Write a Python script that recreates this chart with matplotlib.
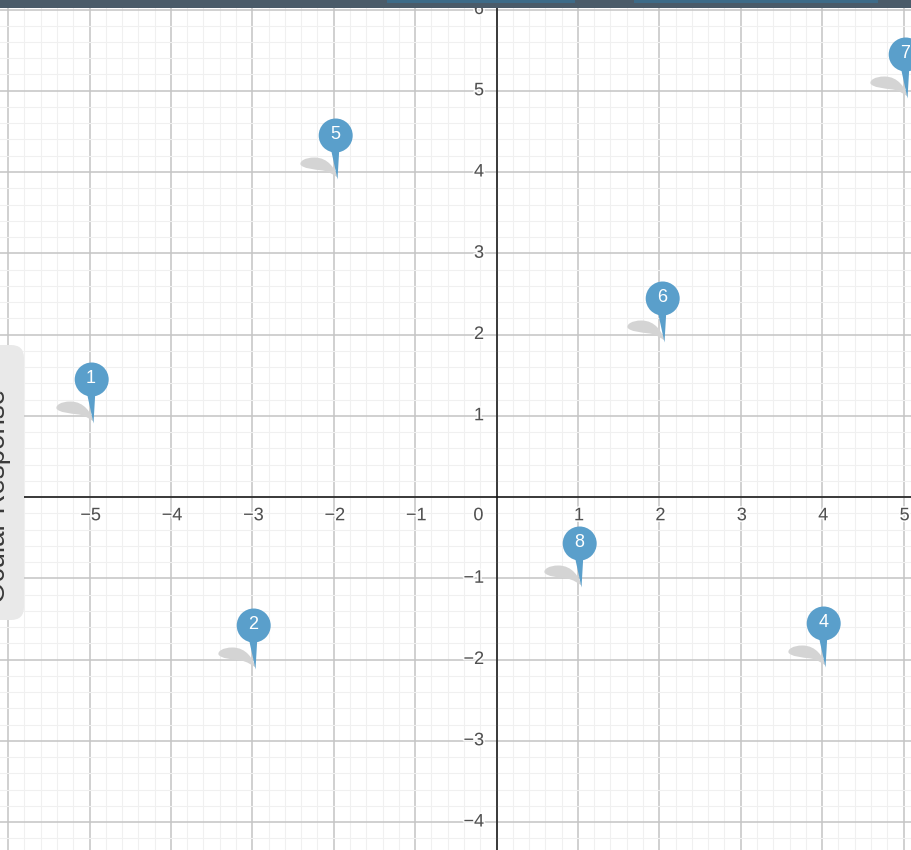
import matplotlib
matplotlib.use("Agg")
import matplotlib.pyplot as plt
import matplotlib.patheffects as pe
import numpy as np
from matplotlib.markers import MarkerStyle
from matplotlib.patches import FancyBboxPatch, Rectangle
from matplotlib.path import Path
from matplotlib.ticker import MultipleLocator

pin_labels = ["1", "2", "4", "5", "6", "7", "8"]
pin_x = [-5, -3, 4, -2, 2.02, 5, 1]
pin_y = [1, -2.03, -2, 4, 2, 5, -1.02]
x_ticks = [-5, -4, -3, -2, -1, 1, 2, 3, 4, 5]
y_ticks = [-4, -3, -2, -1, 1, 2, 3, 4, 5, 6]
side_title = "Ocular Response"

W, H = 912, 850
X0, Y0, UX, UY = 496.5, 497.0, 81.4, 81.25
plt.rcParams["font.family"] = ["Liberation Sans", "DejaVu Sans"]

fig = plt.figure(figsize=(W / 100, H / 100), dpi=100, facecolor="white")
ax = fig.add_axes([0, 0, 1, 1])
ax.set_xlim(-X0 / UX, (W - X0) / UX)
ax.set_ylim((Y0 - H) / UY, Y0 / UY)
ax.xaxis.set_major_locator(MultipleLocator(1))
ax.yaxis.set_major_locator(MultipleLocator(1))
ax.xaxis.set_minor_locator(MultipleLocator(0.2))
ax.yaxis.set_minor_locator(MultipleLocator(0.2))
ax.set_axisbelow(True)
ax.grid(which="minor", color="#f0f0f0", lw=0.8)
ax.grid(which="major", color="#c4c4c4", lw=1.1)
ax.tick_params(which="both", length=0, labelbottom=False, labelleft=False)
for s in ["top", "right"]:
    ax.spines[s].set_visible(False)
for s in ["left", "bottom"]:
    ax.spines[s].set_position(("data", 0))
    ax.spines[s].set_color("#111111")
    ax.spines[s].set_linewidth(1.1)

halo = [pe.withStroke(linewidth=2.5, foreground="white", alpha=0.8)]
tick_style = dict(fontsize=13, color="#505050", path_effects=halo, zorder=3)
for v in x_ticks:
    ax.annotate(str(v).replace("-", "\u2212"), (v, 0), xytext=(0.8, -13.5),
                textcoords="offset points", ha="center", va="center", **tick_style)
for v in y_ticks:
    ax.annotate(str(v).replace("-", "\u2212"), (0, v), xytext=(-9, 0),
                textcoords="offset points", ha="right", va="center", **tick_style)
ax.annotate("0", (0, 0), xytext=(-13, -13.5), textcoords="offset points",
            ha="center", va="center", **tick_style)

# Pin glyphs, in pixels relative to the data point
hx, hy, hr = 1.2, 37.0, 17.0
tail = np.array([(hx - 4.5, hy - 15), (3.0, -7.0), (hx + 3.5, hy - 15), (hx - 4.5, hy - 15)])
pin_path = Path.make_compound_path(
    Path.circle((hx, hy), hr),
    Path(tail, [Path.MOVETO, Path.LINETO, Path.LINETO, Path.CLOSEPOLY]),
)
shadow_path = Path(
    [(3, -5), (1, 3), (-6, 15), (-20, 15), (-30, 15), (-35, 11), (-34, 8),
     (-32, 4), (-20, 3), (-12, 2), (-5, 1), (0, -3), (3, -5), (3, -5)],
    [Path.MOVETO, Path.CURVE4, Path.CURVE4, Path.CURVE4, Path.CURVE4, Path.CURVE4,
     Path.CURVE4, Path.CURVE4, Path.CURVE4, Path.CURVE4, Path.CURVE4, Path.CURVE4,
     Path.CURVE4, Path.CLOSEPOLY],
)


def marker_size(path):
    return (1.44 * np.abs(path.vertices).max()) ** 2


ax.scatter(pin_x, pin_y, marker=MarkerStyle(shadow_path), s=marker_size(shadow_path),
           color="#d4d4d4", linewidths=0, zorder=4, clip_on=False)
ax.scatter(pin_x, pin_y, marker=MarkerStyle(pin_path), s=marker_size(pin_path),
           color="#5a9fcb", linewidths=0, zorder=5, clip_on=False)
for lab, x, y in zip(pin_labels, pin_x, pin_y):
    ax.annotate(lab, (x, y), xytext=(hx * 0.72, hy * 0.72 + 0.3), textcoords="offset points",
                ha="center", va="center", color="white", fontsize=13, zorder=6)

# Interface chrome, in pixels
ov = fig.add_axes([0, 0, 1, 1], facecolor="none")
ov.set_xlim(0, W)
ov.set_ylim(H, 0)
ov.axis("off")
ov.add_patch(Rectangle((0, 0), W, 8, color="#4a5b69", lw=0))
for a, b in [(387, 575), (634, 878)]:
    ov.add_patch(Rectangle((a, 0), b - a, 2.5, color="#3d6b88", lw=0))
ov.add_patch(FancyBboxPatch((-30, 345), 54, 275, boxstyle="round,pad=0,rounding_size=13",
                            color="#e9e9e9", lw=0))
ov.text(5, 603, side_title, rotation=90, rotation_mode="anchor", ha="left", va="baseline",
        fontsize=20, color="#3a3a3a", clip_on=True)

fig.savefig("out.png", dpi=100)
